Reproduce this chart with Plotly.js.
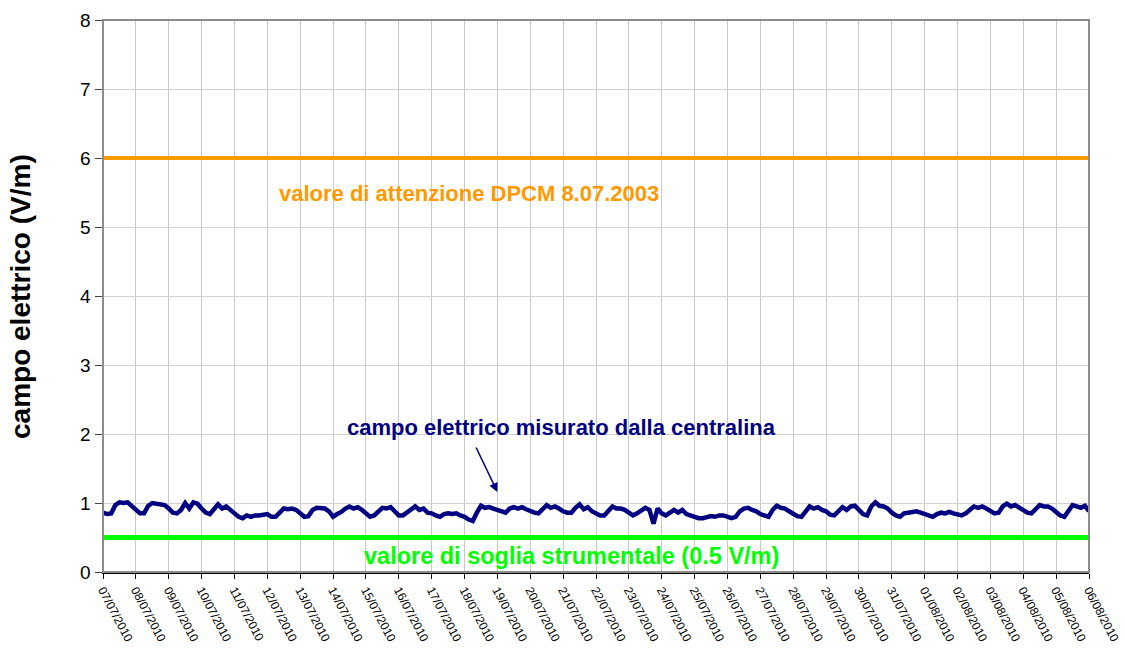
<!DOCTYPE html>
<html>
<head>
<meta charset="utf-8">
<script src="https://cdn.plot.ly/plotly-3.0.1.min.js"></script>
<style>html,body{margin:0;padding:0;background:#fff;}#chart{width:1124px;height:653px;}</style>
</head>
<body>
<div id="chart"></div>
<script>
// campo elettrico (V/m), one reading every 3 hours from 07/07/2010 00:00 to 06/08/2010 00:00
const startDate = '2010-07-07T00:00:00';
const stepHours = 3;
const campo = [
  // 07/07
  0.86, 0.84, 0.85, 0.97, 1.01, 1.00, 1.01, 0.95,
  // 08/07
  0.90, 0.85, 0.85, 0.96, 1.00, 0.99, 0.99, 0.97,
  // 09/07
  0.92, 0.86, 0.85, 0.90, 1.00, 0.92, 1.01, 0.99,
  // 10/07
  0.92, 0.86, 0.84, 0.90, 0.98, 0.92, 0.95, 0.90,
  // 11/07
  0.84, 0.80, 0.78, 0.82, 0.80, 0.82, 0.82, 0.83,
  // 12/07
  0.84, 0.80, 0.80, 0.86, 0.92, 0.91, 0.92, 0.90,
  // 13/07
  0.84, 0.80, 0.81, 0.90, 0.93, 0.93, 0.92, 0.88,
  // 14/07
  0.80, 0.84, 0.87, 0.92, 0.95, 0.92, 0.94, 0.90,
  // 15/07
  0.84, 0.80, 0.82, 0.88, 0.93, 0.92, 0.94, 0.88,
  // 16/07
  0.82, 0.82, 0.86, 0.90, 0.95, 0.90, 0.92, 0.86,
  // 17/07
  0.85, 0.82, 0.80, 0.84, 0.85, 0.84, 0.85, 0.82,
  // 18/07
  0.80, 0.76, 0.74, 0.86, 0.96, 0.93, 0.94, 0.92,
  // 19/07
  0.90, 0.88, 0.86, 0.92, 0.94, 0.92, 0.94, 0.91,
  // 20/07
  0.88, 0.86, 0.85, 0.92, 0.97, 0.93, 0.95, 0.92,
  // 21/07
  0.88, 0.86, 0.86, 0.93, 0.98, 0.91, 0.94, 0.88,
  // 22/07
  0.85, 0.82, 0.82, 0.88, 0.95, 0.92, 0.92, 0.90,
  // 23/07
  0.86, 0.82, 0.85, 0.90, 0.93, 0.90, 0.70, 0.92,
  // 24/07
  0.85, 0.82, 0.86, 0.90, 0.86, 0.90, 0.84, 0.82,
  // 25/07
  0.80, 0.78, 0.78, 0.80, 0.81, 0.80, 0.82, 0.82,
  // 26/07
  0.80, 0.78, 0.80, 0.88, 0.92, 0.93, 0.90, 0.88,
  // 27/07
  0.84, 0.82, 0.80, 0.90, 0.96, 0.93, 0.92, 0.88,
  // 28/07
  0.85, 0.81, 0.80, 0.88, 0.95, 0.92, 0.94, 0.90,
  // 29/07
  0.88, 0.83, 0.82, 0.88, 0.94, 0.90, 0.95, 0.96,
  // 30/07
  0.90, 0.84, 0.82, 0.95, 1.01, 0.96, 0.95, 0.92,
  // 31/07
  0.86, 0.82, 0.80, 0.85, 0.86, 0.87, 0.88, 0.86,
  // 01/08
  0.84, 0.81, 0.80, 0.84, 0.86, 0.85, 0.87, 0.85,
  // 02/08
  0.84, 0.82, 0.85, 0.90, 0.95, 0.93, 0.95, 0.92,
  // 03/08
  0.88, 0.85, 0.86, 0.95, 0.99, 0.95, 0.97, 0.93,
  // 04/08
  0.90, 0.86, 0.85, 0.92, 0.97, 0.95, 0.95, 0.92,
  // 05/08
  0.87, 0.82, 0.80, 0.90, 0.97, 0.95, 0.93, 0.96,
  // 06/08 00:00
  0.88
];
const sogliaAttenzione = [6, 6];
const sogliaStrumentale = [0.5, 0.5];
const rangeDates = ['2010-07-07', '2010-08-06'];

const labelAttenzione = 'valore di attenzione DPCM 8.07.2003';
const labelMisurato = 'campo elettrico misurato dalla centralina';
const labelSoglia = 'valore di soglia strumentale (0.5 V/m)';
const yTitle = 'campo elettrico (V/m)';

// time stamps of the readings
const t0 = new Date(startDate + 'Z').getTime();
function fmt(ms) {
  const d = new Date(ms);
  const p = n => String(n).padStart(2, '0');
  return d.getUTCFullYear() + '-' + p(d.getUTCMonth() + 1) + '-' + p(d.getUTCDate()) + ' ' + p(d.getUTCHours()) + ':00';
}
const times = campo.map((_, i) => fmt(t0 + i * stepHours * 3600000));

const font = 'Liberation Sans, Arial, sans-serif';

const traces = [
  {x: rangeDates, y: sogliaAttenzione, mode: 'lines', line: {color: '#FF9900', width: 4}, hoverinfo: 'skip'},
  {x: rangeDates, y: sogliaStrumentale, mode: 'lines', line: {color: '#00FF00', width: 5}, hoverinfo: 'skip'},
  {x: times, y: campo, mode: 'lines', line: {color: '#000080', width: 4.5}}
];

const layout = {
  width: 1124, height: 653,
  margin: {l: 103, r: 35, t: 20, b: 81},
  paper_bgcolor: '#fff', plot_bgcolor: '#fff',
  showlegend: false,
  font: {family: font, color: '#000'},
  xaxis: {
    type: 'date', range: rangeDates,
    tick0: '2010-07-07', dtick: 86400000, tickformat: '%d/%m/%Y',
    tickangle: 62, tickfont: {size: 12, family: font, color: '#000'},
    showgrid: true, gridcolor: '#c8c8c8', gridwidth: 1,
    ticks: 'outside', ticklen: 5, tickcolor: '#000',
    showline: true, linecolor: '#000', linewidth: 1.5,
    zeroline: false
  },
  yaxis: {
    range: [0, 8], dtick: 1, tick0: 0,
    tickfont: {size: 19, family: font, color: '#000'},
    showgrid: true, gridcolor: '#d0d0d0', gridwidth: 1,
    ticks: 'outside', ticklen: 7, tickcolor: '#444',
    showline: true, linecolor: '#000', linewidth: 1.5,
    zeroline: false
  },
  shapes: [
    {type: 'rect', xref: 'paper', yref: 'paper', x0: 0, x1: 1, y0: 0, y1: 1,
     line: {color: '#8c8c8c', width: 2}, layer: 'above'}
  ],
  annotations: [
    {xref: 'paper', yref: 'paper', x: -0.0842, y: 0.5, xanchor: 'center', yanchor: 'middle',
     text: '<b>' + yTitle + '</b>', textangle: -90,
     showarrow: false, font: {size: 28, family: font, color: '#000'}},
    {xref: 'x', yref: 'y', x: '2010-07-18 03:30', y: 5.49, xanchor: 'center', yanchor: 'middle',
     text: '<b>' + labelAttenzione + '</b>',
     showarrow: false, font: {size: 22, family: font, color: '#FF9900'}},
    {xref: 'x', yref: 'y', x: '2010-07-20 23:00', y: 2.09, xanchor: 'center', yanchor: 'middle',
     text: '<b>' + labelMisurato + '</b>',
     showarrow: false, font: {size: 22, family: font, color: '#000080'}},
    {xref: 'x', yref: 'y', x: '2010-07-19 00:00', y: 1.16, ax: -22, ay: -46,
     text: '', showarrow: true, arrowhead: 2, arrowsize: 1.2, arrowwidth: 1.5, arrowcolor: '#000080'},
    {xref: 'x', yref: 'y', x: '2010-07-21 06:00', y: 0.23, xanchor: 'center', yanchor: 'middle',
     text: '<b>' + labelSoglia + '</b>',
     showarrow: false, font: {size: 23.5, family: font, color: '#00FF00'}}
  ]
};

Plotly.newPlot('chart', traces, layout, {displayModeBar: false, staticPlot: true});
</script>
</body>
</html>
